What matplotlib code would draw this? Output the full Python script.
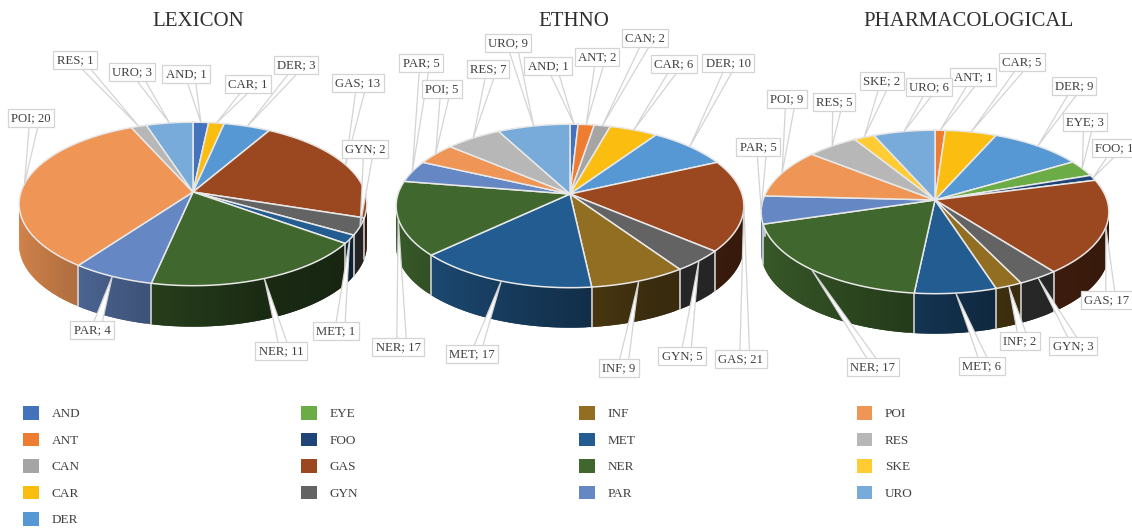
import numpy as np
import matplotlib
matplotlib.use('Agg')
import matplotlib.pyplot as plt
from matplotlib.patches import Patch

plt.rcParams['font.family'] = ['Liberation Serif', 'DejaVu Serif']

# Data
legend_names = ['AND', 'ANT', 'CAN', 'CAR', 'DER', 'EYE', 'FOO', 'GAS', 'GYN',
                'INF', 'MET', 'NER', 'PAR', 'POI', 'RES', 'SKE', 'URO']
legend_colors = ['#4472BC', '#EF7D31', '#A5A5A5', '#FBBE10', '#5598D3', '#6CAC46',
                 '#1F4479', '#9B4820', '#636363', '#926E22', '#235C90', '#40672E',
                 '#6587C4', '#EF9555', '#B7B7B7', '#FFCD33', '#78ABD9']

lexicon_names = ['AND', 'CAR', 'DER', 'GAS', 'GYN', 'MET', 'NER', 'PAR', 'POI', 'RES', 'URO']
lexicon_values = [1, 1, 3, 13, 2, 1, 11, 4, 20, 1, 3]

ethno_names = ['AND', 'ANT', 'CAN', 'CAR', 'DER', 'GAS', 'GYN', 'INF', 'MET', 'NER', 'PAR', 'POI', 'RES', 'URO']
ethno_values = [1, 2, 2, 6, 10, 21, 5, 9, 17, 17, 5, 5, 7, 9]

pharma_names = ['ANT', 'CAR', 'DER', 'EYE', 'FOO', 'GAS', 'GYN', 'INF', 'MET', 'NER', 'PAR', 'POI', 'RES', 'SKE', 'URO']
pharma_values = [1, 5, 9, 3, 1, 17, 3, 2, 6, 17, 5, 9, 5, 2, 6]

# Layout, in pixels of the 1132x528 picture
lexicon_label_pos = [(186, 74), (248, 84), (296, 65), (358, 83), (365, 149), (336, 331),
                     (281, 351), (92, 330), (31, 118), (75, 60), (132, 72)]
ethno_label_pos = [(548, 66), (597, 57), (645, 38), (674, 64), (728, 63), (741, 359), (682, 356),
                   (619, 368), (472, 354), (398, 347), (421, 63), (442, 89), (488, 69), (508, 43)]
pharma_label_pos = [(973, 77), (1022, 62), (1074, 86), (1085, 122), (1114, 148), (1107, 300), (1073, 346),
                    (1020, 341), (982, 366), (873, 367), (758, 147), (787, 99), (834, 102), (882, 81), (929, 87)]

color_of = dict(zip(legend_names, legend_colors))


def project(theta, cx, cy):
    # tilted disc seen in perspective, the near edge looks bigger
    k = 0.146
    w = 1 + k * np.cos(theta)
    return cx + 172 * np.sin(theta) / w, cy - 80 * np.cos(theta) / w


def shade(color, x):
    f = np.interp(x, [-1, -0.2, 0.4, 1], [0.88, 0.6, 0.4, 0.35])
    return tuple(np.array(matplotlib.colors.to_rgb(color)) * f)


def draw_pie(ax, title, title_x, names, values, label_pos, cx, cy, depth):
    ax.text(title_x, 21, title, fontsize=15, color='#303030', ha='center', va='center')
    edges = np.cumsum([0] + values) / sum(values) * 2 * np.pi

    # side wall first, the top face hides the far part of it
    for i, name in enumerate(names):
        steps = max(2, int((edges[i + 1] - edges[i]) / np.radians(1.5)) + 1)
        t = np.linspace(edges[i], edges[i + 1], steps)
        # each strip runs under the next one so no seams show
        for j, (a, b) in enumerate(zip(t[:-1], t[1:])):
            end = t[min(j + 2, steps - 1)]
            arc = np.array([a, (a + end) / 2, end])
            x, y = project(arc, cx, cy)
            col = shade(color_of[name], np.sin((a + b) / 2))
            ax.fill(np.r_[x, x[::-1]], np.r_[y, y[::-1] + depth],
                    facecolor=col, edgecolor='none', zorder=1)
    for e in edges[:-1]:
        x0, y0 = project(e, cx, cy)
        ax.plot([x0, x0], [y0, y0 + depth], color='#dcdcdc', lw=1.1, zorder=2)

    # top face
    for i, name in enumerate(names):
        t = np.linspace(edges[i], edges[i + 1], 80)
        x, y = project(t, cx, cy)
        ax.fill(np.r_[cx, x], np.r_[cy, y], facecolor=color_of[name],
                edgecolor='#e8e8e8', lw=1.1, joinstyle='round', zorder=3)

    # labels with their callout wedges
    renderer = ax.figure.canvas.get_renderer()
    for i, name in enumerate(names):
        mid = (edges[i] + edges[i + 1]) / 2
        tip_x, tip_y = project(mid, cx, cy)
        lx, ly = label_pos[i]
        txt = ax.text(lx, ly, f'{name}; {values[i]}', fontsize=9.2, color='#404040',
                      ha='center', va='center', zorder=6,
                      bbox=dict(boxstyle='square,pad=0.25', facecolor='white',
                                edgecolor='#d4d4d4', lw=0.9))
        box = txt.get_bbox_patch().get_window_extent(renderer)
        half = box.width / 2
        base_y = ly + box.height / 2 if tip_y > ly else ly - box.height / 2
        b0 = min(max(tip_x, lx - half + 2), lx + half - 2)
        b1 = b0 - 10 if b0 > lx else b0 + 10
        ax.fill([b0, tip_x, b1], [base_y, tip_y, base_y], facecolor='white',
                edgecolor='#d4d4d4', lw=0.9, zorder=5)


fig = plt.figure(figsize=(11.32, 5.28), dpi=100)
fig.canvas.draw()
ax = fig.add_axes([0, 0, 1, 1])
ax.set_xlim(0, 1132)
ax.set_ylim(528, 0)
ax.axis('off')

draw_pie(ax, 'LEXICON', 198, lexicon_names, lexicon_values, lexicon_label_pos, 193, 192, 41)
draw_pie(ax, 'ETHNO', 574, ethno_names, ethno_values, ethno_label_pos, 570, 194, 40)
draw_pie(ax, 'PHARMACOLOGICAL', 968, pharma_names, pharma_values, pharma_label_pos, 935, 200, 40)

handles = [Patch(facecolor=c, edgecolor='none') for c in legend_colors]
fig.legend(handles, legend_names, ncol=4, frameon=False, loc='upper left',
           bbox_to_anchor=(23 / 1132, 1 - 406 / 528), borderaxespad=0, borderpad=0,
           fontsize=9.5, labelcolor='#404040', handlelength=1.21, handleheight=1.21,
           handletextpad=0.95, labelspacing=0.93, columnspacing=16.75)

fig.savefig('out.png', dpi=100)
